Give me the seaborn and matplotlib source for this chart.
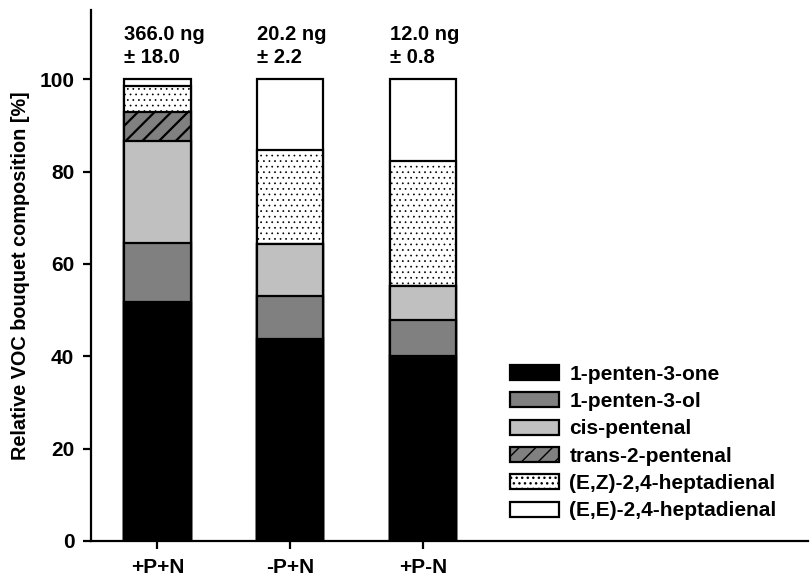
import matplotlib
matplotlib.use("Agg")
import matplotlib.pyplot as plt
from matplotlib.patches import Patch
import seaborn as sns
import numpy as np
import pandas as pd

# treatments and their compound shares (% of bouquet)
conditions = ["+P+N", "-P+N", "+P-N"]
compounds = ["1-penten-3-one", "1-penten-3-ol", "cis-pentenal",
             "trans-2-pentenal", "(E,Z)-2,4-heptadienal", "(E,E)-2,4-heptadienal"]
pentenone = [51.7, 43.8, 40.1]
pentenol = [12.9, 9.2, 7.7]
cis_pentenal = [22.0, 11.4, 7.4]
trans_pentenal = [6.4, 0.0, 0.0]
ez_heptadienal = [5.6, 20.3, 27.1]
ee_heptadienal = [1.4, 15.3, 17.7]
totals = ["366.0 ng\n± 18.0", "20.2 ng\n± 2.2", "12.0 ng\n± 0.8"]

colors = ["black", "#808080", "#c0c0c0", "#808080", "white", "white"]
hatches = [None, None, None, "//", "...", None]
hatch_lw = [1.6, 1.6, 1.6, 1.6, 0.5, 1.6]

sns.set_style("ticks")
plt.rcParams["font.family"] = ["Liberation Sans", "DejaVu Sans"]
plt.rcParams["font.weight"] = "bold"
for key in ["text.color", "axes.labelcolor", "xtick.color", "ytick.color",
            "axes.edgecolor"]:
    plt.rcParams[key] = "black"

shares = np.array([pentenone, pentenol, cis_pentenal, trans_pentenal,
                   ez_heptadienal, ee_heptadienal])
cum = np.cumsum(shares, axis=0)
df = pd.DataFrame(cum.T, columns=compounds)
df["condition"] = conditions

fig = plt.figure(figsize=(8.11, 5.77), dpi=100)
ax = fig.add_axes([0.1122, 0.0624, 0.8841, 0.9203])

# draw cumulative bars from the top layer down so each overlays the next
for k in range(len(compounds) - 1, -1, -1):
    with plt.rc_context({"hatch.linewidth": hatch_lw[k]}):
        sns.barplot(data=df, x="condition", y=compounds[k], color=colors[k],
                    saturation=1, edgecolor="black", linewidth=1.6,
                    hatch=hatches[k], width=0.5, errorbar=None, ax=ax)

for i, t in enumerate(totals):
    ax.text(i - 0.25, 102.6, t, ha="left", va="bottom", fontsize=14.5,
            fontweight="bold", linespacing=1.25)

ax.set_xlim(-0.5, 4.9)
ax.set_ylim(0, 115)
ax.set_yticks([0, 20, 40, 60, 80, 100])
ax.set_xlabel("")
ax.set_ylabel("Relative VOC bouquet composition [%]", fontsize=14.3,
              fontweight="bold", labelpad=7)
ax.tick_params(axis="both", direction="out", length=6, width=1.6,
               labelsize=15, pad=6)
for s in ["top", "right"]:
    ax.spines[s].set_visible(False)
for s in ["left", "bottom"]:
    ax.spines[s].set_linewidth(1.6)

handles = []
for c, h, lw in zip(colors, hatches, hatch_lw):
    with plt.rc_context({"hatch.linewidth": lw}):
        handles.append(Patch(facecolor=c, edgecolor="black", linewidth=1.6, hatch=h))
ax.legend(handles, compounds, loc="upper left", bbox_to_anchor=(0.585, 0.332),
          frameon=False, fontsize=15, borderaxespad=0, borderpad=0,
          handlelength=2.35, handleheight=0.72, handletextpad=0.48,
          labelspacing=0.4)

fig.savefig("out.png", dpi=100)
